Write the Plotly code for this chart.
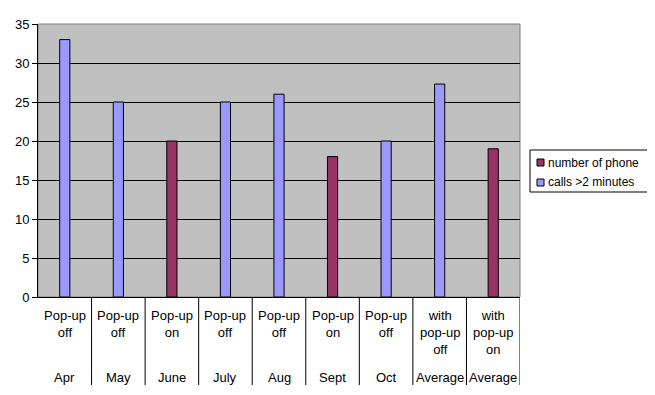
import plotly.graph_objects as go

months = ["Apr", "May", "June", "July", "Aug", "Sept", "Oct", "Average", "Average"]
status = ["Pop-up<br>off", "Pop-up<br>off", "Pop-up<br>on", "Pop-up<br>off", "Pop-up<br>off",
          "Pop-up<br>on", "Pop-up<br>off", "with<br>pop-up<br>off", "with<br>pop-up<br>on"]
popup_on = [False, False, True, False, False, True, False, False, True]
values = [33, 25, 20, 25, 26, 18, 20, 27.3, 19]
legend_names = ["number of phone", "calls >2 minutes"]
y_ticks = [0, 5, 10, 15, 20, 25, 30, 35]
COLOR_ON = "#993366"
COLOR_OFF = "#9999FF"

idx = list(range(len(months)))
on_vals = [v if o else None for v, o in zip(values, popup_on)]
off_vals = [None if o else v for v, o in zip(values, popup_on)]

W, H = 647, 387
ML, MR, MT, MB = 30, 135, 16, 98
PW, PH = W - ML - MR, H - MT - MB


def px(fx):
    return (fx - ML) / PW


def py(fy):
    return (H - MB - fy) / PH


fig = go.Figure()
fig.add_trace(go.Bar(x=idx, y=on_vals, name=legend_names[0], width=0.19,
                     marker=dict(color=COLOR_ON, line=dict(color="black", width=1))))
fig.add_trace(go.Bar(x=idx, y=off_vals, name=legend_names[1], width=0.19,
                     marker=dict(color=COLOR_OFF, line=dict(color="black", width=1))))

font = dict(family="Arial", size=13, color="black")
legend_font = dict(family="Arial", size=12, color="black")
annotations = []
for i, (m, s) in enumerate(zip(months, status)):
    annotations.append(dict(x=i, y=0, xref="x", yref="paper", text=s, showarrow=False,
                            yanchor="top", yshift=-9, font=font))
    annotations.append(dict(x=i, y=0, xref="x", yref="paper", text=m, showarrow=False,
                            yanchor="bottom", yshift=-90, font=font))

shapes = [dict(type="rect", xref="paper", yref="paper", x0=0, x1=1, y0=0, y1=1,
               line=dict(color="#808080", width=1), layer="below")]
for i in idx:
    shapes.append(dict(type="line", xref="x", yref="paper", x0=i + 0.5, x1=i + 0.5,
                       y0=0, y1=-88 / PH, line=dict(color="black", width=1)))

# legend box (drawn to match the compact spreadsheet-style legend)
shapes.append(dict(type="rect", xref="paper", yref="paper", x0=px(522), x1=px(644),
                   y0=py(184), y1=py(142), line=dict(color="black", width=1),
                   fillcolor="white"))
for k, (name, col) in enumerate(zip(legend_names, [COLOR_ON, COLOR_OFF])):
    top = 151 + 20 * k
    shapes.append(dict(type="rect", xref="paper", yref="paper", x0=px(529), x1=px(536),
                       y0=py(top + 7), y1=py(top), line=dict(color="black", width=1),
                       fillcolor=col))
    annotations.append(dict(x=px(538), y=py(top + 3.5), xref="paper", yref="paper", text=name,
                            showarrow=False, xanchor="left", yanchor="middle", font=legend_font))

fig.update_layout(
    width=W, height=H,
    margin=dict(l=ML, r=MR, t=MT, b=MB, autoexpand=False),
    paper_bgcolor="white", plot_bgcolor="#C0C0C0",
    barmode="overlay",
    font=font,
    showlegend=False,
    annotations=annotations, shapes=shapes,
)
fig.update_xaxes(range=[-0.5, len(months) - 0.5], showticklabels=False, showgrid=False,
                 showline=True, linecolor="black", linewidth=1, zeroline=False, ticks="")
fig.update_yaxes(range=[0, 35], tickvals=y_ticks, showgrid=True, gridcolor="black", gridwidth=1,
                 showline=True, linecolor="black", linewidth=1, ticks="outside", ticklen=5,
                 tickcolor="black", zeroline=False, tickfont=font)

fig.write_html("out.html")
